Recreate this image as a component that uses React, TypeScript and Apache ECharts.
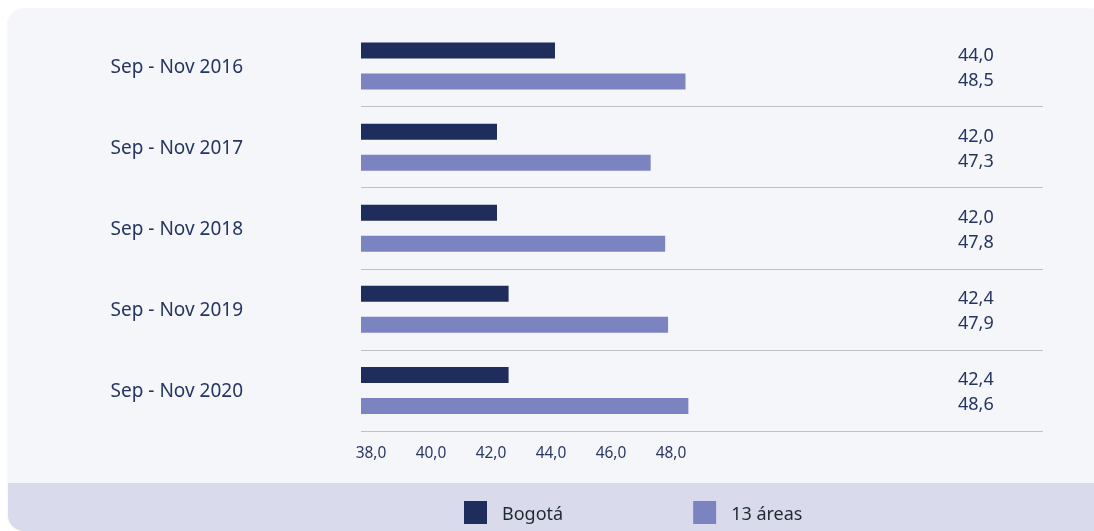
import React, { useEffect, useRef } from 'react';
import * as echarts from 'echarts';

const categories = ['Sep - Nov 2016', 'Sep - Nov 2017', 'Sep - Nov 2018', 'Sep - Nov 2019', 'Sep - Nov 2020'];
const bogota = [44.0, 42.0, 42.0, 42.4, 42.4];
const areas13 = [48.5, 47.3, 47.8, 47.9, 48.6];
const xTicks = [38, 40, 42, 44, 46, 48];
const seriesNames = ['Bogotá', '13 áreas'];

const fmt = (v: number) => v.toFixed(1).replace('.', ',');

export default function App() {
  const ref = useRef<HTMLDivElement>(null);

  useEffect(() => {
    if (!ref.current) return;
    const chart = echarts.init(ref.current, undefined, { renderer: 'svg' });
    const font = 'Noto Sans';
    chart.setOption({
      animation: false,
      textStyle: { fontFamily: font },
      grid: [
        { left: 361, right: 51, top: 25.5, bottom: 100 },
        { left: 311, right: 51, top: 25.5, bottom: 100 },
      ],
      xAxis: [
        { type: 'value', gridIndex: 0, min: 37.31, max: 60.83, show: false },
        {
          type: 'value',
          gridIndex: 1,
          min: 36,
          max: 60.4,
          interval: 2,
          axisLine: { show: false },
          axisTick: { show: false },
          splitLine: { show: false },
          axisLabel: {
            formatter: (v: number) => (xTicks.includes(v) ? fmt(v) : ''),
            fontSize: 15.5,
            color: '#2b3864',
            margin: 13,
            fontFamily: font,
          },
        },
      ],
      yAxis: [
        {
          type: 'category',
          gridIndex: 0,
          data: categories,
          inverse: true,
          axisLine: { show: false },
          axisTick: { show: false },
          axisLabel: { fontSize: 19, color: '#253561', margin: 118, fontFamily: font },
          splitLine: {
            show: true,
            interval: (i: number) => i > 0,
            lineStyle: { color: '#bfc0c8', width: 1 },
          },
        },
        {
          type: 'category',
          gridIndex: 0,
          data: categories,
          inverse: true,
          position: 'right',
          axisLine: { show: false },
          axisTick: { show: false },
          splitLine: { show: false },
          axisLabel: {
            formatter: (_v: string, i: number) => fmt(bogota[i]) + '\n' + fmt(areas13[i]),
            fontSize: 18,
            lineHeight: 25,
            color: '#253561',
            margin: -85,
            align: 'left',
            fontFamily: font,
          },
        },
        { type: 'category', gridIndex: 1, data: categories, show: false },
      ],
      legend: {
        left: 464,
        top: 501,
        padding: 0,
        itemWidth: 23,
        itemHeight: 23,
        itemGap: 130,
        icon: 'rect',
        selectedMode: false,
        data: seriesNames,
        textStyle: { fontSize: 18, color: '#1d2b30', padding: [0, 0, 0, 10], fontFamily: font },
      },
      series: [
        {
          name: seriesNames[0],
          type: 'bar',
          xAxisIndex: 0,
          yAxisIndex: 0,
          data: bogota,
          barWidth: 16,
          barGap: '94%',
          itemStyle: { color: '#1e2d5b' },
        },
        {
          name: seriesNames[1],
          type: 'bar',
          xAxisIndex: 0,
          yAxisIndex: 0,
          data: areas13,
          barWidth: 16,
          barGap: '94%',
          itemStyle: { color: '#7b84c0' },
        },
      ],
    });
    return () => chart.dispose();
  }, []);

  return (
    <>
      <div
        style={{
          position: 'fixed',
          left: 8,
          top: 9,
          width: 1086,
          height: 522,
          background: '#f5f6fa',
          borderRadius: '16px 0 0 16px',
          overflow: 'hidden',
          boxShadow: '0 0 3px rgba(0,0,0,0.08)',
        }}
      >
        <div
          style={{
            position: 'absolute',
            left: 0,
            right: 0,
            top: 474,
            bottom: 0,
            background: '#d9daec',
          }}
        />
      </div>
      <div ref={ref} style={{ position: 'fixed', left: 0, top: 0, width: 1094, height: 531 }} />
    </>
  );
}
